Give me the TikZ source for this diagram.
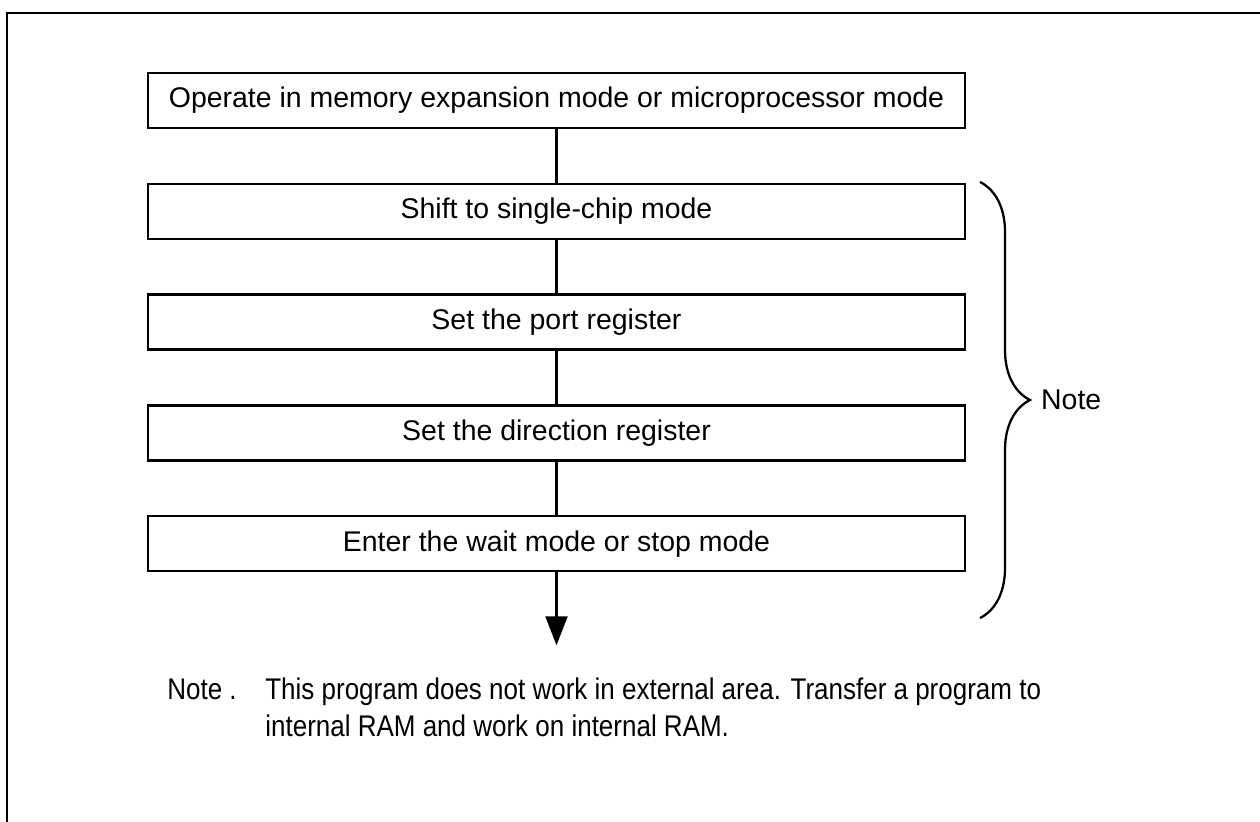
\documentclass[tikz,border=0pt]{standalone}
\usepackage{fontspec}
\setmainfont{Liberation Sans}
\newfontfamily\notefont[FakeStretch=0.87]{Liberation Sans}
\usepackage{tikz}
\usetikzlibrary{arrows.meta,positioning,decorations.pathreplacing}

\begin{document}
\begin{tikzpicture}[
  font=\fontsize{16.2}{19}\selectfont,
  stepbox/.style={draw, line width=1.3pt, minimum width=16.34cm, minimum height=1.1cm, inner sep=0pt, align=center},
  note/.style={align=left, inner sep=0pt, font=\notefont\fontsize{17}{21}\selectfont},
  flow/.style={line width=1.3pt}
]
\clip (0,0) rectangle (25.2,-16.42);

% Frame, running off the page on the right and below.
\draw[line width=1.7pt] (0.14,-17) -- (0.14,-0.26) -- (26,-0.26);

% Flow boxes.
\node[stepbox] (op) at (11.13,-2.01) {Operate in memory expansion mode or microprocessor mode};
\node[stepbox, below=1.07cm of op] (shift) {Shift to single-chip mode};
\node[stepbox, below=1.07cm of shift] (port) {Set the port register};
\node[stepbox, below=1.07cm of port] (dir) {Set the direction register};
\node[stepbox, below=1.07cm of dir] (wait) {Enter the wait mode or stop mode};
\coordinate[below=1.46cm of wait.south] (out);

\draw[flow] (op) -- (shift);
\draw[flow] (shift) -- (port);
\draw[flow] (port) -- (dir);
\draw[flow] (dir) -- (wait);
\draw[flow, -{Triangle[width=0.44cm, length=0.58cm]}] (wait) -- (out);

% Brace over the steps.
\coordinate (btop) at (19.6,-3.64);
\coordinate (bbot) at (19.6,-12.36);
\draw[line width=1.3pt, decorate, decoration={brace, amplitude=1cm}] (btop) -- (bbot)
  node[midway, xshift=1.2cm, anchor=west, inner sep=0pt] (bracelab) {Note};

% Footnote (base of a two-line node is its last line).
\node[note, anchor=base west] (notelab) at (3.34,-13.98) {Note .};
\node[note, anchor=base west] (notetext) at (5.3,-14.72) {This program does not work in external area. Transfer a program to\\internal RAM and work on internal RAM.};
\end{tikzpicture}
\end{document}
